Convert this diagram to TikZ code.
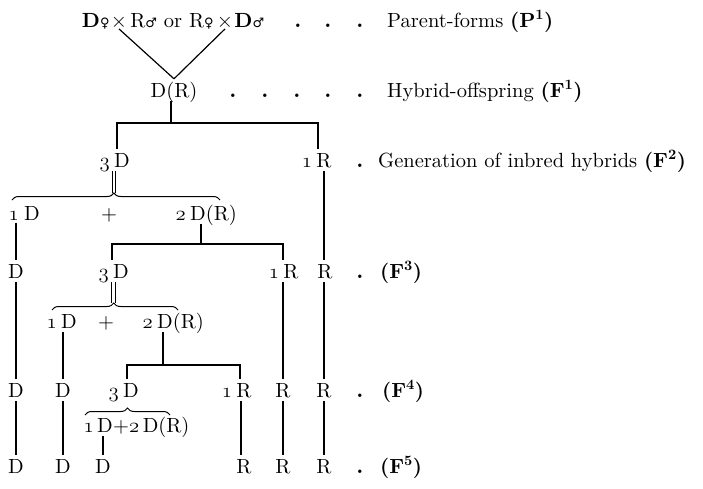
\documentclass[tikz,border=0pt]{standalone}
\usepackage{fontspec}
\setmainfont{lmroman10-regular}[Extension=.otf, BoldFont=lmroman10-bold]
\newfontfamily\symfont{DejaVu Sans}
\usetikzlibrary{decorations.pathreplacing}
\newcommand{\fem}{{\symfont\fontsize{13}{13}\selectfont ♀}}
\newcommand{\mal}{{\symfont\fontsize{13}{13}\selectfont ♂}}
\newcommand{\osn}[1]{$\mathnormal{#1}$}
\begin{document}
\begin{tikzpicture}[x=1pt,y=-1pt,
  every node/.style={font=\fontsize{20.5}{24}\selectfont},
  lt/.style={inner xsep=0pt, inner ysep=4pt, text height=14pt, text depth=0pt, anchor=base},
  num/.style={inner sep=0pt, anchor=base east},
  txt/.style={inner sep=0pt, anchor=base west},
  dotc/.style={inner sep=0pt, anchor=base, font=\fontsize{22}{24}\selectfont\bfseries},
  ln/.style={line width=1.2pt},
  dbl/.style={double, double distance=2.4pt, line width=0.9pt},
  br/.style={line width=1pt, decorate, decoration={brace, amplitude=7pt, aspect=#1}},
]
\useasboundingbox (0,0) rectangle (703,488);

% ---- Parent forms
\node[inner sep=0pt, anchor=base] (X1) at (119,27) {$\times$};
\node[inner sep=0pt, anchor=base] (X2) at (225,27) {$\times$};
\node[inner sep=0pt, anchor=base east] (PL) at ([xshift=-1pt]X1.base west) {\textbf{D}\fem};
\node[inner sep=0pt, anchor=base] (PM) at (172,27) {R\mal{} or R\fem};
\node[inner sep=0pt, anchor=base west] (PR) at ([xshift=1pt]X2.base east) {\textbf{D}\mal};
\foreach \x in {298,328,360} \node[dotc] (dp\x) at (\x,27) {.};
\node[txt] (LP) at (387,27) {Parent-forms \textbf{(P\textsuperscript{1})}};

% ---- F1
\node[lt] (F1) at (174,97) {D(R)};
\foreach \x in {233,265,297,328,360} \node[dotc] (d1\x) at (\x,97) {.};
\node[txt] (LF1) at (387,97) {Hybrid-offspring \textbf{(F\textsuperscript{1})}};
\draw[ln] (X1.south) -- (F1.north);
\draw[ln] (X2.south) -- (F1.north);

% ---- F2
\node[lt] (A2) at (122,167) {D};
\node[num] (nA2) at ([xshift=-4pt]A2.base west) {\osn{3}};
\node[lt] (B2) at (324,167) {R};
\node[num] (nB2) at ([xshift=-4pt]B2.base west) {\osn{1}};
\node[dotc] (d2) at (360,167) {.};
\node[txt] (LF2) at (378,167) {Generation of inbred hybrids \textbf{(F\textsuperscript{2})}};
\coordinate (b1) at (0,123);
\draw[ln] ([xshift=-3pt]F1.south) -- ([xshift=-3pt]F1.south |- b1);
\draw[ln] ([xshift=-5pt]A2.north) -- ([xshift=-5pt]A2.north |- b1) -- ([xshift=-6pt]B2.north |- b1) -- ([xshift=-6pt]B2.north);

% brace 1
\coordinate (br1a) at (12,200);
\coordinate (br1b) at (220,200);
\draw[dbl] ([xshift=-8pt]A2.south) -- ([xshift=-8pt]A2.south |- 0,193);
\draw[br=0.49] (br1a) -- (br1b);

% ---- row under brace 1
\node[lt] (B1a) at (32,220) {D};
\node[num] (nB1a) at ([xshift=-5pt]B1a.base west) {\osn{1}};
\node[inner sep=0pt, anchor=base] (pl1) at (109,220) {+};
\node[lt, anchor=base west] (B1b) at (190,220) {D(R)};
\node[num] (nB1b) at ([xshift=-4pt]B1b.base west) {\osn{2}};

% ---- F3
\node[lt] (F3a) at (16,278) {D};
\node[lt] (A3) at (121,278) {D};
\node[num] (nA3) at ([xshift=-4pt]A3.base west) {\osn{3}};
\node[lt] (B3) at (291,278) {R};
\node[num] (nB3) at ([xshift=-4pt]B3.base west) {\osn{1}};
\node[lt] (C3) at (325,278) {R};
\node[dotc] (d3) at (360,278) {.};
\node[txt] (LF3) at (380,278) {\textbf{(F\textsuperscript{3})}};

\draw[ln] ([yshift=-3pt]F3a.north |- nB1a.south) -- (F3a.north);
\draw[ln] (B2.south) -- (B2.south |- C3.north);
\coordinate (b2) at (0,244);
\draw[ln] ([xshift=11pt]B1b.south west) -- ([xshift=11pt]B1b.south west |- b2);
\draw[ln] ([xshift=-9pt]A3.north) -- ([xshift=-9pt]A3.north |- b2) -- ([xshift=-8pt]B3.north |- b2) -- ([xshift=-8pt]B3.north);

% brace 2
\coordinate (br2a) at (52,310);
\coordinate (br2b) at (178,310);
\draw[dbl] ([xshift=-7.5pt]A3.south) -- ([xshift=-7.5pt]A3.south |- 0,303);
\draw[br=0.49] (br2a) -- (br2b);

% ---- row under brace 2
\node[lt] (B2a) at (69,328) {D};
\node[num] (nB2a) at ([xshift=-4pt]B2a.base west) {\osn{1}};
\node[inner sep=0pt, anchor=base] (pl2) at (106,328) {+};
\node[lt, anchor=base west] (B2b) at (157,328) {D(R)};
\node[num] (nB2b) at ([xshift=-4pt]B2b.base west) {\osn{2}};

% ---- F4
\node[lt] (F4a) at (16,397) {D};
\node[lt] (F4b) at (63,397) {D};
\node[lt] (A4) at (131,397) {D};
\node[num] (nA4) at ([xshift=-4pt]A4.base west) {\osn{3}};
\node[lt] (B4) at (244,397) {R};
\node[num] (nB4) at ([xshift=-4pt]B4.base west) {\osn{1}};
\node[lt] (C4) at (283,397) {R};
\node[lt] (D4) at (324,397) {R};
\node[dotc] (d4) at (360,397) {.};
\node[txt] (LF4) at (382,397) {\textbf{(F\textsuperscript{4})}};

\draw[ln] (F3a.south) -- (F4a.north);
\draw[ln] (F4b.north |- B2a.south) -- (F4b.north);
\draw[ln] (C4.north |- B3.south) -- (C4.north);
\draw[ln] (D4.north |- C3.south) -- (D4.north);
\coordinate (b3) at (0,365);
\draw[ln] ([xshift=6pt]B2b.south west) -- ([xshift=6pt]B2b.south west |- b3);
\draw[ln] ([xshift=-4pt]A4.north) -- ([xshift=-4pt]A4.north |- b3) -- ([xshift=-4pt]B4.north |- b3) -- ([xshift=-4pt]B4.north);

% brace 3
\coordinate (br3a) at (85,415);
\coordinate (br3b) at (170,415);
\draw[br=0.5] (br3a) -- (br3b);

% ---- row under brace 3
\node[lt] (B3a) at (105,432) {D};
\node[num] (nB3a) at ([xshift=-3pt]B3a.base west) {\osn{1}};
\node[lt, anchor=base west] (B3b) at (B3a.base east) {+\osn{2}\,D(R)};

% ---- F5
\node[lt] (F5a) at (16,473) {D};
\node[lt] (F5b) at (63,473) {D};
\node[lt] (F5c) at (103,473) {D};
\node[lt] (F5d) at (244,473) {R};
\node[lt] (F5e) at (283,473) {R};
\node[lt] (F5f) at (324,473) {R};
\node[dotc] (d5) at (360,473) {.};
\node[txt] (LF5) at (380,473) {\textbf{(F\textsuperscript{5})}};

\draw[ln] (F4a.south) -- (F5a.north);
\draw[ln] (F4b.south) -- (F5b.north);
\draw[ln] (F5c.north |- B3a.south) -- (F5c.north);
\draw[ln] ([xshift=-3pt]B4.south) -- ([xshift=-3pt]F5d.north);
\draw[ln] (C4.south) -- (F5e.north);
\draw[ln] (D4.south) -- (F5f.north);
\end{tikzpicture}
\end{document}
